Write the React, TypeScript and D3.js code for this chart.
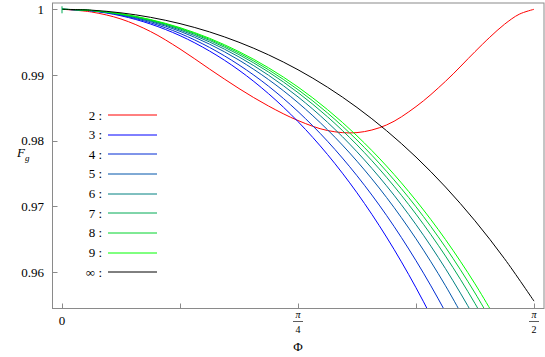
import { useEffect, useRef } from "react";
import * as d3 from "d3";

// Φ sample points (radians, 0 .. π/2)
const phi = [
  0, 0.0982, 0.1963, 0.2945, 0.3927, 0.4909, 0.589, 0.6872, 0.7854, 0.8836,
  0.9817, 1.0799, 1.1781, 1.2763, 1.3744, 1.4726, 1.5708,
];
// denser near π/2 for the n = 2 curve, which flattens out at Fg = 1
const phi2 = [
  0, 0.0982, 0.1963, 0.2945, 0.3927, 0.4909, 0.589, 0.6872, 0.7854, 0.8836,
  0.9817, 1.0799, 1.1781, 1.2763, 1.3744, 1.4235, 1.4726, 1.5217, 1.5708,
];

// Fg readings per series (curves that leave the plot are cut at the bottom)
const fg2 = [1, 0.99959, 0.99852, 0.99662, 0.99396, 0.99091, 0.98794, 0.98528, 0.98307, 0.98155, 0.98123, 0.98239, 0.98519, 0.98904, 0.99355, 0.99574, 0.99772, 0.99925, 1];
const fg3 = [1, 0.99975, 0.99901, 0.99776, 0.99599, 0.99365, 0.99073, 0.98716, 0.98291, 0.9779, 0.97207, 0.96534, 0.95762, 0.94882, 0.93884];
const fg4 = [1, 0.99977, 0.9991, 0.99795, 0.99633, 0.9942, 0.99153, 0.9883, 0.98444, 0.97992, 0.97467, 0.96864, 0.96174, 0.95391, 0.94506];
const fg5 = [1, 0.99979, 0.99917, 0.99813, 0.99665, 0.9947, 0.99227, 0.98931, 0.98579, 0.98167, 0.97688, 0.97137, 0.96507, 0.95792, 0.94983];
const fg6 = [1, 0.99981, 0.99923, 0.99825, 0.99685, 0.99503, 0.99275, 0.98997, 0.98667, 0.9828, 0.97831, 0.97314, 0.96723, 0.96052, 0.95294, 0.9444];
const fg7 = [1, 0.99982, 0.99926, 0.99833, 0.99701, 0.99527, 0.9931, 0.99046, 0.98732, 0.98364, 0.97936, 0.97444, 0.96882, 0.96244, 0.95522, 0.9471];
const fg8 = [1, 0.99982, 0.99929, 0.99839, 0.99711, 0.99544, 0.99335, 0.9908, 0.98777, 0.98422, 0.9801, 0.97535, 0.96994, 0.96378, 0.95682, 0.94899];
const fg9 = [1, 0.99983, 0.99931, 0.99844, 0.99721, 0.99559, 0.99356, 0.9911, 0.98817, 0.98473, 0.98074, 0.97615, 0.9709, 0.96495, 0.95821, 0.95063];
const fgInf = [1, 0.99987, 0.99946, 0.99878, 0.99782, 0.99656, 0.99498, 0.99307, 0.9908, 0.98814, 0.98506, 0.98153, 0.97751, 0.97295, 0.96781, 0.96204, 0.95558];

const seriesNames = ["2", "3", "4", "5", "6", "7", "8", "9", "∞"];
const seriesValues = [fg2, fg3, fg4, fg5, fg6, fg7, fg8, fg9, fgInf];
const seriesPhi = [phi2, phi, phi, phi, phi, phi, phi, phi, phi];
const seriesColors = ["#ff0000", "#0000ff", "#002bd4", "#0055aa", "#008080", "#00aa55", "#00d42b", "#00ff00", "#000000"];

const yTicks = [1, 0.99, 0.98, 0.97, 0.96];
const yTickLabels = ["1", "0.99", "0.98", "0.97", "0.96"];
const xTicks = [0, Math.PI / 8, Math.PI / 4, (3 * Math.PI) / 8, Math.PI / 2];

const FONT = "'Liberation Serif', 'DejaVu Serif', serif";

const App = () => {
  const svgRef = useRef<SVGSVGElement | null>(null);

  useEffect(() => {
    const width = 545;
    const height = 357;
    const box = { left: 52.5, right: 544, top: 3, bottom: 308.5 };

    const svg = d3
      .select(svgRef.current)
      .attr("width", width)
      .attr("height", height)
      .style("font-family", FONT);
    svg.selectAll("*").remove();

    const x = d3.scaleLinear().domain([0, Math.PI / 2]).range([62, 534]);
    const y = d3.scaleLinear().domain([0.96, 1]).range([272.1, 9.3]);

    svg
      .append("defs")
      .append("clipPath")
      .attr("id", "plot-clip")
      .append("rect")
      .attr("x", box.left)
      .attr("y", box.top)
      .attr("width", box.right - box.left)
      .attr("height", box.bottom - box.top);

    // curves
    const g = svg.append("g").attr("clip-path", "url(#plot-clip)");
    seriesValues.forEach((vals, i) => {
      const xs = seriesPhi[i];
      const line = d3
        .line<number>()
        .x((_, j) => x(xs[j]))
        .y((d) => y(d))
        .curve(d3.curveCatmullRom.alpha(0.5));
      g.append("path")
        .datum(vals)
        .attr("fill", "none")
        .attr("stroke", seriesColors[i])
        .attr("stroke-width", 1)
        .attr("d", line);
    });

    // small mark at the origin of the curves
    svg
      .append("line")
      .attr("x1", x(0))
      .attr("x2", x(0))
      .attr("y1", y(1) - 3)
      .attr("y2", y(1) + 4)
      .attr("stroke", "#00aa55")
      .attr("stroke-width", 1);

    // frame
    svg
      .append("rect")
      .attr("x", box.left)
      .attr("y", box.top)
      .attr("width", box.right - box.left)
      .attr("height", box.bottom - box.top)
      .attr("fill", "none")
      .attr("stroke", "#8a8a8a")
      .attr("stroke-width", 1);

    // y ticks
    yTicks.forEach((t, i) => {
      svg
        .append("line")
        .attr("x1", box.left)
        .attr("x2", box.left + 5)
        .attr("y1", Math.round(y(t)) + 0.5)
        .attr("y2", Math.round(y(t)) + 0.5)
        .attr("stroke", "#8a8a8a");
      svg
        .append("text")
        .attr("x", 44)
        .attr("y", y(t) + 4.5)
        .attr("text-anchor", "end")
        .style("font-size", "13px")
        .text(yTickLabels[i]);
    });

    // x ticks
    xTicks.forEach((t) => {
      svg
        .append("line")
        .attr("x1", Math.round(x(t)) + 0.5)
        .attr("x2", Math.round(x(t)) + 0.5)
        .attr("y1", box.bottom)
        .attr("y2", box.bottom - 5)
        .attr("stroke", "#8a8a8a");
    });

    svg
      .append("text")
      .attr("x", x(0))
      .attr("y", 325)
      .attr("text-anchor", "middle")
      .style("font-size", "13px")
      .text("0");

    // π/4 and π/2 as stacked fractions
    const fracs: [number, string][] = [
      [Math.PI / 4, "4"],
      [Math.PI / 2, "2"],
    ];
    fracs.forEach(([v, den]) => {
      const cx = x(v);
      svg
        .append("text")
        .attr("x", cx)
        .attr("y", 318)
        .attr("text-anchor", "middle")
        .style("font-style", "italic")
        .style("font-size", "10px")
        .text("π");
      svg
        .append("line")
        .attr("x1", cx - 5)
        .attr("x2", cx + 5)
        .attr("y1", 321.5)
        .attr("y2", 321.5)
        .attr("stroke", "#333")
        .attr("stroke-width", 0.8);
      svg
        .append("text")
        .attr("x", cx)
        .attr("y", 333)
        .attr("text-anchor", "middle")
        .style("font-size", "10px")
        .text(den);
    });

    // axis labels
    svg
      .append("text")
      .attr("x", x(Math.PI / 4))
      .attr("y", 351)
      .attr("text-anchor", "middle")
      .style("font-size", "13px")
      .text("Φ");

    const fLabel = svg
      .append("text")
      .attr("x", 17)
      .attr("y", 157)
      .style("font-size", "13px");
    fLabel.append("tspan").style("font-style", "italic").text("F");
    fLabel
      .append("tspan")
      .attr("dy", 3.5)
      .style("font-size", "9px")
      .style("font-style", "italic")
      .text("g");

    // legend
    seriesNames.forEach((name, i) => {
      const ly = 115 + i * 19.65;
      svg
        .append("text")
        .attr("x", 102)
        .attr("y", ly + 4.5)
        .attr("text-anchor", "end")
        .style("font-size", "13px")
        .text(`${name} :`);
      svg
        .append("line")
        .attr("x1", 108)
        .attr("x2", 157)
        .attr("y1", Math.round(ly))
        .attr("y2", Math.round(ly))
        .attr("stroke", seriesColors[i])
        .attr("stroke-width", 1);
    });
  }, []);

  return (
    <div style={{ position: "absolute", left: 0, top: 0 }}>
      <svg ref={svgRef}></svg>
    </div>
  );
};

export default App;
